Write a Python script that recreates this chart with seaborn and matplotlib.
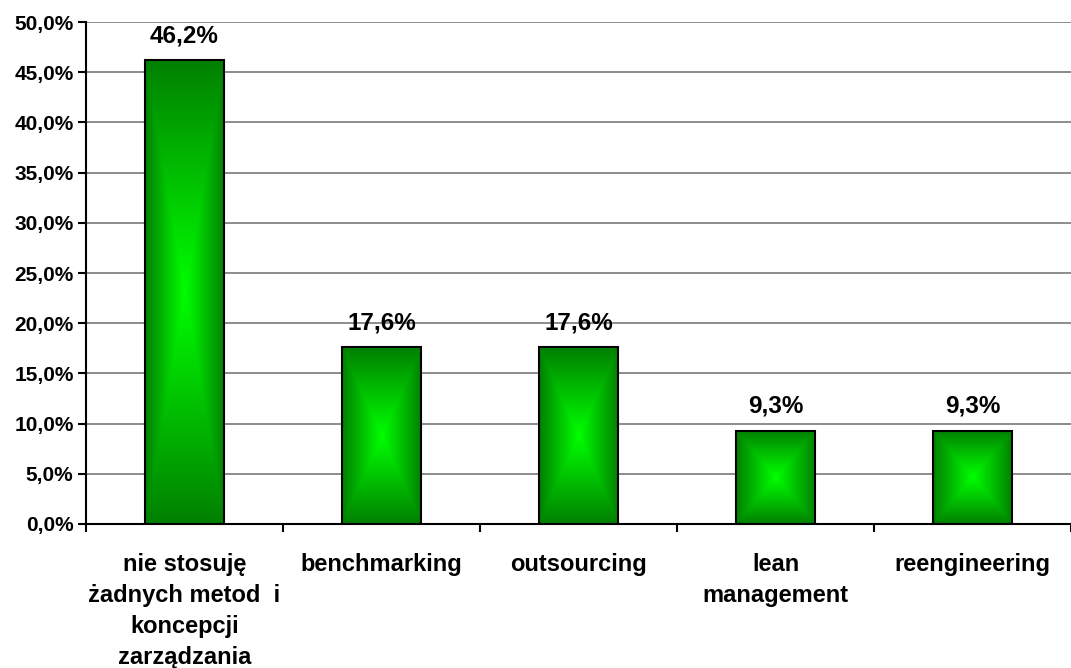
import numpy as np
import pandas as pd
import matplotlib
matplotlib.use("Agg")
import matplotlib.pyplot as plt
import seaborn as sns
from matplotlib.colors import LinearSegmentedColormap
from matplotlib.ticker import FixedLocator

categories = ["nie stosuję\nżadnych metod  i\nkoncepcji\nzarządzania",
              "benchmarking", "outsourcing", "lean\nmanagement", "reengineering"]
values = [46.2, 17.6, 17.6, 9.3, 9.3]
value_labels = ["46,2%", "17,6%", "17,6%", "9,3%", "9,3%"]
yticks = [0, 5, 10, 15, 20, 25, 30, 35, 40, 45, 50]
ytick_labels = ["0,0%", "5,0%", "10,0%", "15,0%", "20,0%", "25,0%", "30,0%",
                "35,0%", "40,0%", "45,0%", "50,0%"]

sns.set_theme(style="white")
plt.rcParams['font.family'] = ['Liberation Sans', 'DejaVu Sans']
plt.rcParams['font.weight'] = 'bold'
plt.rcParams['text.color'] = 'black'
plt.rcParams['xtick.color'] = 'black'
plt.rcParams['ytick.color'] = 'black'
plt.rcParams['xtick.labelcolor'] = 'black'
plt.rcParams['ytick.labelcolor'] = 'black'

df = pd.DataFrame({"cat": categories, "val": values})

fig = plt.figure(figsize=(10.71, 6.68), dpi=100)
ax = fig.add_axes([0.0803, 0.2156, 0.9197, 0.7514])

sns.barplot(data=df, x="cat", y="val", ax=ax, width=0.405, color="#00a000",
            edgecolor="black", linewidth=1.5, saturation=1)

ax.set_ylim(0, 50)
ax.set_xlim(-0.5, len(categories) - 0.5)
ax.set_yticks(yticks)
ax.set_yticklabels(ytick_labels, fontsize=15, fontweight='bold', color='black')
for y in yticks[1:]:
    ax.axhline(y, color="#8c8c8c", lw=1.4, zorder=0)

# gradient fill (rectangle gradient from centre)
n = 201
u = np.linspace(-1, 1, n)
U, V = np.meshgrid(u, u)
T = np.maximum(np.abs(U), np.abs(V))
cmap = LinearSegmentedColormap.from_list("g", ["#00ff00", "#008000"])
for p in ax.patches:
    x0, y0 = p.get_x(), p.get_y()
    w, h = p.get_width(), p.get_height()
    im = ax.imshow(T, cmap=cmap, extent=[x0, x0 + w, y0, y0 + h],
                   aspect='auto', zorder=p.get_zorder() + 0.1, vmin=0, vmax=1)
    im.set_clip_path(p)
    p.set_facecolor("none")
    p.set_zorder(p.get_zorder() + 0.2)

ax.set_xlim(-0.5, len(categories) - 0.5)
ax.set_ylim(0, 50)

for i, (v, lab) in enumerate(zip(values, value_labels)):
    ax.text(i, v + 1.8, lab, ha='center', va='baseline', fontsize=17.5,
            fontweight='bold', color='black')

ax.set_xlabel("")
ax.set_ylabel("")
ax.set_xticks(range(len(categories)))
ax.set_xticklabels(categories, fontsize=17, fontweight='bold', linespacing=1.45,
                   va='top', color='black')
ax.tick_params(axis='x', which='major', length=0, pad=21)
ax.xaxis.set_minor_locator(FixedLocator([i - 0.5 for i in range(len(categories) + 1)]))
ax.tick_params(axis='x', which='minor', length=6, width=1.5, color='black', direction='out', bottom=True)
ax.tick_params(axis='y', which='major', length=6, width=1.5, color='black', direction='out', left=True, pad=3)

for s in ["top", "right"]:
    ax.spines[s].set_visible(False)
for s in ["left", "bottom"]:
    ax.spines[s].set_color("black")
    ax.spines[s].set_linewidth(1.5)
    ax.spines[s].set_zorder(5)

fig.savefig("out.png", dpi=100, facecolor="white")
